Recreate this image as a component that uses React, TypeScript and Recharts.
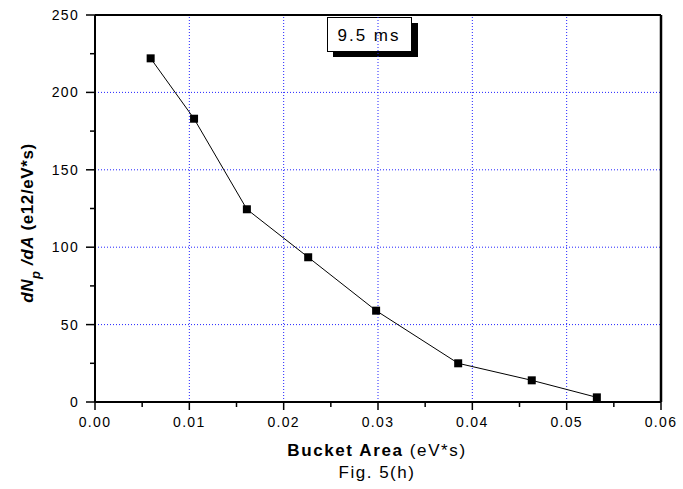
import { ScatterChart, Scatter, XAxis, YAxis, ReferenceLine } from "recharts";

// Bucket area (eV*s) and dNp/dA (e12/eV*s)
const bucketArea = [0.0059, 0.0105, 0.0161, 0.0226, 0.0298, 0.0385, 0.0463, 0.0532];
const dNdA = [222, 183, 124.5, 93.5, 59, 25, 14, 3];

const xTicks = [0, 0.005, 0.01, 0.015, 0.02, 0.025, 0.03, 0.035, 0.04, 0.045, 0.05, 0.055, 0.06];
const yTicks = [0, 25, 50, 75, 100, 125, 150, 175, 200, 225, 250];
const xGrid = [0.01, 0.02, 0.03, 0.04, 0.05];
const yGrid = [50, 100, 150, 200];

const data = bucketArea.map((x, i) => ({ x, y: dNdA[i] }));

const font = "Arial, 'Liberation Sans', sans-serif";

const XTick = (props: any) => {
    const { x, y, payload } = props;
    const v = payload.value;
    const major = Math.round(v * 1000) % 10 === 0;
    return (
        <g>
            <line x1={x} y1={y} x2={x} y2={y + (major ? 8 : 5)} stroke="#000" strokeWidth={1.5} />
            {major && (
                <text x={x} y={y + 25} textAnchor="middle" fontSize={14} fontFamily={font} fill="#000" style={{ letterSpacing: 1.3 }}>
                    {v.toFixed(2)}
                </text>
            )}
        </g>
    );
};

const YTick = (props: any) => {
    const { x, y, payload } = props;
    const v = payload.value;
    const major = v % 50 === 0;
    return (
        <g>
            <line x1={x} y1={y} x2={x - (major ? 9 : 5)} y2={y} stroke="#000" strokeWidth={1.5} />
            {major && (
                <text x={x - 16} y={y + 5} textAnchor="end" fontSize={14} fontFamily={font} fill="#000" style={{ letterSpacing: 1.3 }}>
                    {v}
                </text>
            )}
        </g>
    );
};

const Square = (props: any) => {
    const { cx, cy } = props;
    return <rect x={cx - 4} y={cy - 4} width={8} height={8} fill="#000" />;
};

const Annotations = () => (
    <g fontFamily={font} fill="#000">
        <rect x={333} y={23} width={85} height={34} fill="#000" />
        <rect x={327.5} y={17.5} width={84} height={34} fill="#fff" stroke="#000" strokeWidth={1} />
        <text x={369} y={41} textAnchor="middle" fontSize={17} style={{ letterSpacing: 2 }}>
            9.5 ms
        </text>
        <text x={377} y={456} textAnchor="middle" fontSize={17} style={{ letterSpacing: 1.6 }}>
            <tspan fontWeight="bold">Bucket Area</tspan>
            <tspan> (eV*s)</tspan>
        </text>
        <text x={377} y={478} textAnchor="middle" fontSize={17} style={{ letterSpacing: 1.5 }}>
            Fig. 5(h)
        </text>
        <text x={33} y={223} textAnchor="middle" fontSize={17} fontWeight="bold" transform="rotate(-90 33 223)" style={{ letterSpacing: 0.6 }}>
            <tspan fontStyle="italic">dN</tspan>
            <tspan fontStyle="italic" fontSize={13} dy={7}>p</tspan>
            <tspan fontStyle="italic" dy={-7}> /dA</tspan>
            <tspan> (e12/eV*s)</tspan>
        </text>
    </g>
);

export default function App() {
    return (
        <div style={{ position: "absolute", left: 0, top: 0, width: 683, height: 489, background: "#fff" }}>
            <ScatterChart width={683} height={489} margin={{ top: 15, right: 22, bottom: 47, left: 35 }}>
                <XAxis
                    dataKey="x"
                    type="number"
                    domain={[0, 0.06]}
                    ticks={xTicks}
                    interval={0}
                    height={40}
                    tickSize={0}
                    tickMargin={0}
                    tickLine={false}
                    tick={<XTick />}
                    axisLine={{ stroke: "#000", strokeWidth: 2 }}
                />
                <YAxis
                    dataKey="y"
                    type="number"
                    domain={[0, 250]}
                    ticks={yTicks}
                    interval={0}
                    width={60}
                    tickSize={0}
                    tickMargin={0}
                    tickLine={false}
                    tick={<YTick />}
                    axisLine={{ stroke: "#000", strokeWidth: 2 }}
                />
                {xGrid.map((v) => (
                    <ReferenceLine key={"x" + v} x={v} stroke="#2222ff" strokeDasharray="1 2" strokeWidth={1} />
                ))}
                {yGrid.map((v) => (
                    <ReferenceLine key={"y" + v} y={v} stroke="#2222ff" strokeDasharray="1 2" strokeWidth={1} />
                ))}
                <ReferenceLine y={250} stroke="#000" strokeWidth={2} />
                <ReferenceLine x={0.06} stroke="#000" strokeWidth={2.5} />
                <Scatter
                    data={data}
                    line={{ stroke: "#000", strokeWidth: 1 }}
                    shape={<Square />}
                    isAnimationActive={false}
                />
                <Annotations />
            </ScatterChart>
        </div>
    );
}
